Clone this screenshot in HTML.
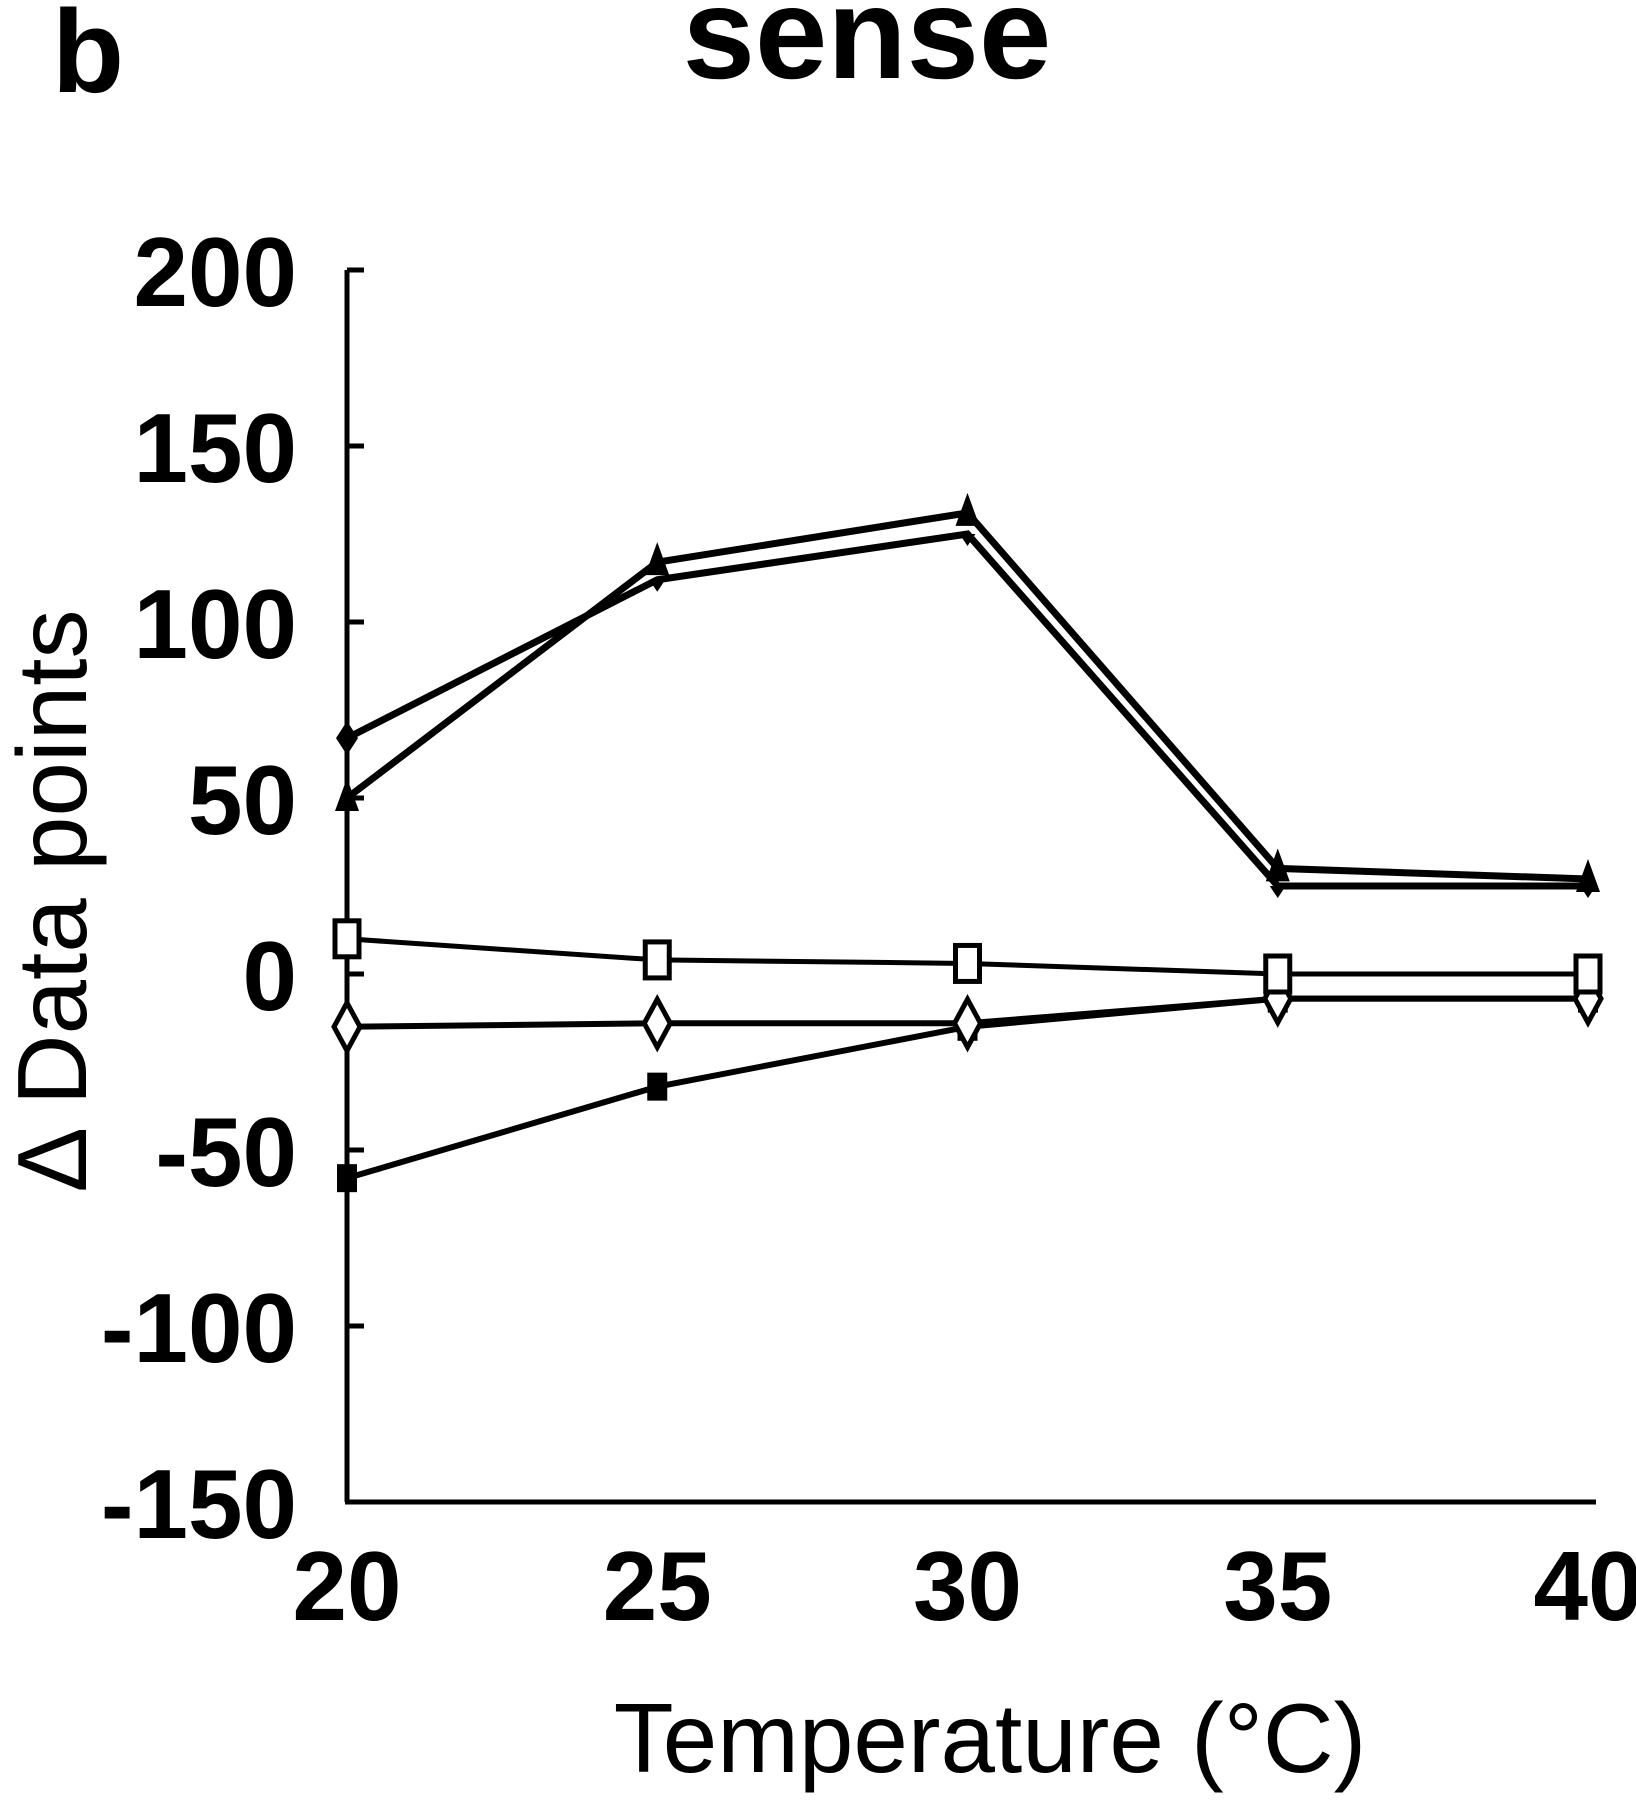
<!DOCTYPE html>
<html><head><meta charset="utf-8"><style>
html,body{margin:0;padding:0;background:#fff}
svg text{font-family:"Liberation Sans",Arial,sans-serif;fill:#000}
</style></head><body>
<svg id="chart" width="1636" height="1800" viewBox="0 0 1636 1800" xmlns="http://www.w3.org/2000/svg">
<text x="88" y="92" font-size="118" font-weight="bold" text-anchor="middle">b</text>
<text x="867" y="78" font-size="130" font-weight="bold" text-anchor="middle">sense</text>
<text transform="translate(86,901) rotate(-90)" font-size="98" text-anchor="middle">Δ Data points</text>
<text x="990" y="1772" font-size="98" text-anchor="middle">Temperature (°C)</text>
<g id="axes"></g>
<g id="series"></g>
</svg>
<script>
const xTicks=[20,25,30,35,40];
const yTicks=[200,150,100,50,0,-50,-100,-150];
const temps=[20,25,30,35,40];
const triUp=[50,117,131,30,27];
const triDown=[67,112,125,25,25];
const openSquare=[10,4,3,0,0];
const openDiamond=[-15,-14,-14,-7,-7];
const filledSquare=[-58,-32,-15,-7,-7];

const NS='http://www.w3.org/2000/svg';
function X(t){return 347+(t-20)*(1588-347)/20;}
function Y(v){return 270+(200-v)*(1502-270)/350;}
function mk(tag,attrs,parent){const e=document.createElementNS(NS,tag);for(const k in attrs)e.setAttribute(k,attrs[k]);parent.appendChild(e);return e;}
const axes=document.getElementById('axes');
const ser=document.getElementById('series');
let yl=mk('line',{x1:347,y1:Y(200),x2:347,y2:Y(-150),stroke:'#000','stroke-width':5},axes);


let xl=mk('line',{x1:345,y1:Y(-150),x2:1596,y2:Y(-150),stroke:'#000','stroke-width':5},axes);


yTicks.forEach(v=>{
  let t=mk('line',{x1:347,y1:Y(v),x2:364,y2:Y(v),stroke:'#000','stroke-width':5},axes);
  
  
  let l=mk('text',{x:297,y:Y(v)+36,'font-size':98,'font-weight':'bold','text-anchor':'end'},axes);
  l.textContent=v;
  
  
});
xTicks.forEach(v=>{
  let l=mk('text',{x:X(v),y:1620,'font-size':98,'font-weight':'bold','text-anchor':'middle'},axes);
  l.textContent=v;
  
  
});
function marker(type,cx,cy,g){
  let e;
  if(type==='triUp')e=mk('polygon',{points:`${cx},${cy-20} ${cx-12},${cy+13} ${cx+12},${cy+13}`,fill:'#000'},g);
  else if(type==='triDown')e=mk('polygon',{points:`${cx},${cy+12} ${cx-8},${cy} ${cx+8},${cy}`,fill:'#000'},g);
  else if(type==='fdiamond')e=mk('polygon',{points:`${cx},${cy-17} ${cx+11},${cy} ${cx},${cy+17} ${cx-11},${cy}`,fill:'#000'},g);
  else if(type==='osquare')e=mk('rect',{x:cx-12,y:cy-18,width:24,height:36,fill:'#fff',stroke:'#000','stroke-width':5},g);
  else if(type==='odiamond')e=mk('polygon',{points:`${cx},${cy-24} ${cx+13},${cy} ${cx},${cy+24} ${cx-13},${cy}`,fill:'#fff',stroke:'#000','stroke-width':5},g);
  else e=mk('rect',{x:cx-10,y:cy-14,width:20,height:28,fill:'#000'},g);
  
  
}
function series(name,vals,type,w,firstType){
  const g=mk('g',{},ser);
  
  
  const pts=temps.map((t,i)=>X(t)+','+Y(vals[i])).join(' ');
  let p=mk('polyline',{points:pts,fill:'none',stroke:'#000','stroke-width':w},g);
  
  
  temps.forEach((t,i)=>marker(i===0&&firstType?firstType:type,X(t),Y(vals[i]),g));
}
series('series-filled-square',filledSquare,'fsquare',6);
series('series-open-diamond',openDiamond,'odiamond',6);
series('series-open-square',openSquare,'osquare',5);
series('series-filled-diamond',triDown,'triDown',7,'fdiamond');
series('series-filled-triangle',triUp,'triUp',7);
</script>
</body></html>
